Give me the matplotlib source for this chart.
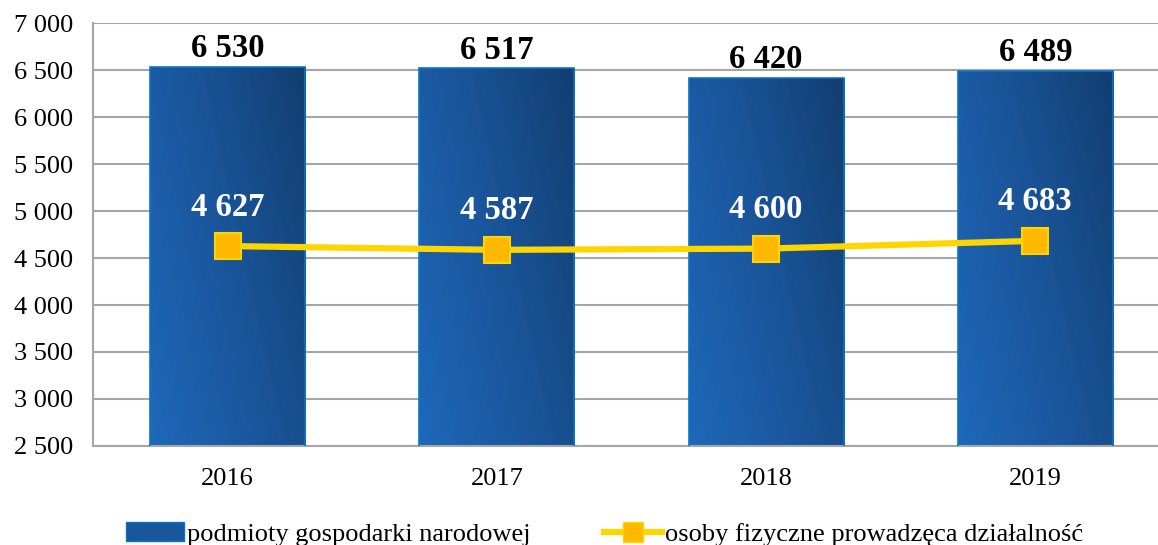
import numpy as np
import matplotlib
matplotlib.use("Agg")
import matplotlib.pyplot as plt
from matplotlib.colors import LinearSegmentedColormap
from matplotlib.patches import Patch
from matplotlib.lines import Line2D

years = ["2016", "2017", "2018", "2019"]
podmioty = [6530, 6517, 6420, 6489]
osoby = [4627, 4587, 4600, 4683]
yticks = [2500, 3000, 3500, 4000, 4500, 5000, 5500, 6000, 6500, 7000]

def fmt(v):
    return f"{v:,}".replace(",", " ")

plt.rcParams['font.family'] = ['Liberation Serif', 'DejaVu Serif']

fig = plt.figure(figsize=(11.58, 5.45), dpi=100)
ax = fig.add_axes([0.0803, 0.1817, 0.93, 0.776])

x = np.arange(len(years))
bars = ax.bar(x, podmioty, width=0.576, color="none", edgecolor="#0A74C8",
              linewidth=1.2, zorder=3)

# gradient fill: light blue lower-left -> dark navy upper-right
cmap = LinearSegmentedColormap.from_list("g", ["#1E68BA", "#1A559A", "#123E70"])
gx, gy = np.meshgrid(np.linspace(0, 1, 200), np.linspace(0, 1, 200))
grad = 0.65 * gx + 0.35 * gy
for b in bars:
    x0, w, h = b.get_x(), b.get_width(), b.get_height()
    im = ax.imshow(grad, cmap=cmap, origin="lower", aspect="auto",
                   extent=[x0, x0 + w, 2500, h], zorder=2)
    im.set_clip_path(b)

for xi, v in zip(x, podmioty):
    ax.annotate(fmt(v), (xi, v), xytext=(0, 2), textcoords="offset points",
                ha="center", va="bottom", fontsize=23.5, fontweight="bold",
                color="black", zorder=6)

ax.plot(x, osoby, color="#FFD500", linewidth=4.5, marker="s", markersize=19,
        markerfacecolor="#FFB800", markeredgecolor="#FFD500",
        markeredgewidth=1.5, zorder=5)

for xi, v in zip(x, osoby):
    ax.annotate(fmt(v), (xi, v), xytext=(0, 28), textcoords="offset points",
                ha="center", va="center", fontsize=23.5, fontweight="bold",
                color="white", zorder=6)

ax.set_xlim(-0.5, 3.5)
ax.set_ylim(2500, 7000)
ax.set_yticks(yticks)
ax.set_yticklabels([fmt(t) for t in yticks])
ax.set_xticks(x)
ax.set_xticklabels(years)
ax.tick_params(axis="both", length=0, labelsize=19, colors="black")
ax.tick_params(axis="x", pad=16)
ax.tick_params(axis="y", pad=14)

ax.grid(axis="y", color="#A6A6A6", linewidth=1.5, zorder=0)
ax.set_axisbelow(True)
for s in ["top", "right"]:
    ax.spines[s].set_visible(False)
ax.spines["left"].set_color("#A6A6A6")
ax.spines["left"].set_linewidth(1.5)
ax.spines["bottom"].set_color("#A6A6A6")
ax.spines["bottom"].set_linewidth(1.5)

handles = [
    Patch(facecolor="#1A569A", edgecolor="#0A74C8", label="podmioty gospodarki narodowej"),
    Line2D([0], [0], color="#FFD500", linewidth=4.5, marker="s", markersize=14,
           markerfacecolor="#FFB800", markeredgecolor="#FFD500",
           label="osoby fizyczne prowadzęca działalność"),
]
fig.legend(handles=handles, loc="lower center", bbox_to_anchor=(0.522, -0.045), ncol=2,
           frameon=False, fontsize=19, columnspacing=2.8, handlelength=2.2,
           handletextpad=0.1)

fig.savefig("out.png", dpi=100)
